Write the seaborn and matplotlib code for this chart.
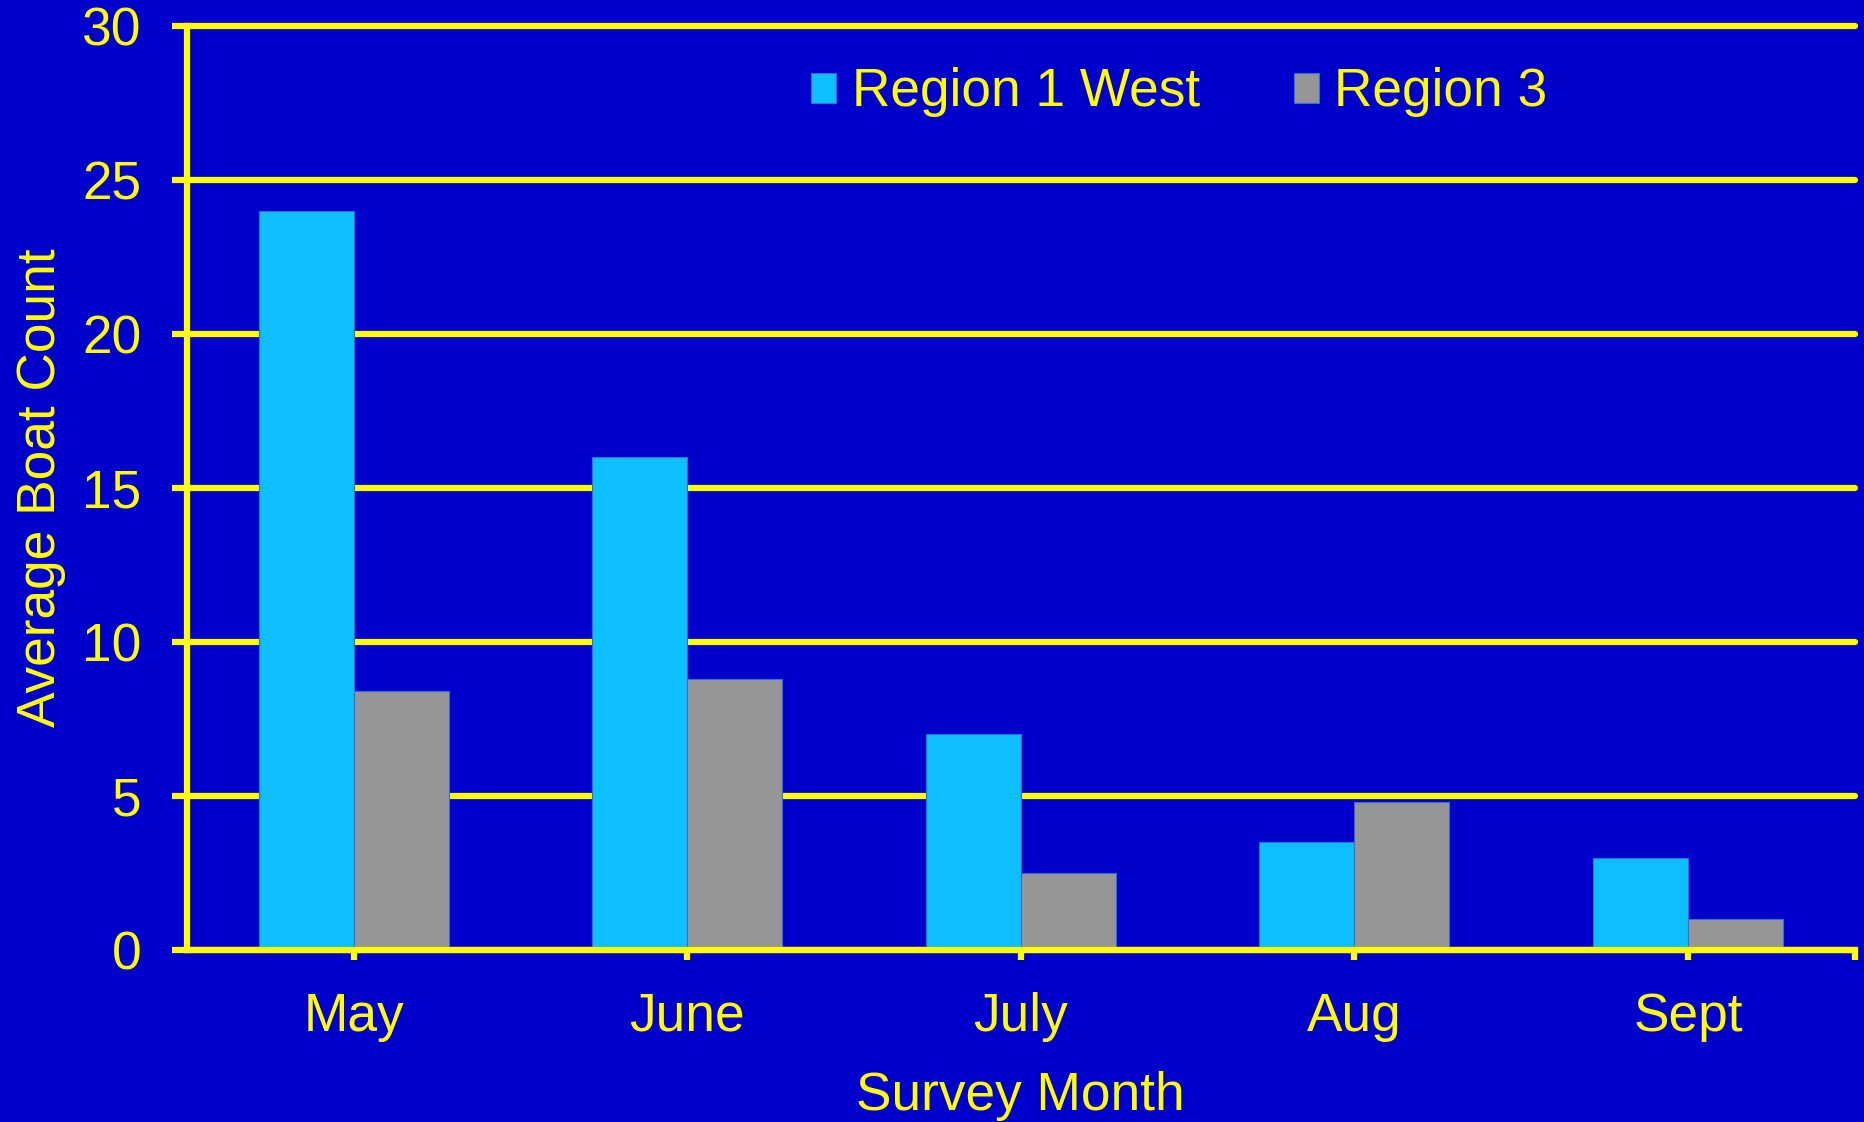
import pandas as pd
import matplotlib
matplotlib.use('Agg')
import matplotlib.pyplot as plt
import seaborn as sns

# Values
months = ['May', 'June', 'July', 'Aug', 'Sept']
region_1_west = [24.0, 16.0, 7.0, 3.5, 3.0]
region_3 = [8.4, 8.8, 2.5, 4.8, 1.0]
series_names = ['Region 1 West', 'Region 3']
y_ticks = [0, 5, 10, 15, 20, 25, 30]

bg = '#0000CC'
yellow = '#FFFF00'
colours = ['#0DBFFF', '#969696']
fs = 38.3

df = pd.DataFrame({
    'Month': months * 2,
    'Count': region_1_west + region_3,
    'Series': [series_names[0]] * len(months) + [series_names[1]] * len(months),
})

sns.set_theme(style='white')
plt.rcParams['font.family'] = ['Liberation Sans', 'DejaVu Sans']

fig = plt.figure(figsize=(18.64, 11.22), dpi=100, facecolor=bg)
ax = fig.add_axes([0.1003, 0.1533, 0.8947, 0.8235])
ax.set_facecolor(bg)

sns.barplot(data=df, x='Month', y='Count', hue='Series', order=months,
            hue_order=series_names, palette=colours, saturation=1, width=0.57,
            gap=0, edgecolor='#3070D0', linewidth=0.8, ax=ax)

ax.set_ylim(0, 30)
ax.set_xlim(-0.5, len(months) - 0.5)
ax.set_yticks(y_ticks)
ax.set_axisbelow(True)
ax.yaxis.grid(True, color=yellow, linewidth=4.5)
ax.xaxis.grid(False)
for line in ax.get_ygridlines():
    line.set_clip_on(False)

for side in ['top', 'right']:
    ax.spines[side].set_visible(False)
for side in ['left', 'bottom']:
    ax.spines[side].set_color(yellow)
    ax.spines[side].set_linewidth(4.5)
    ax.spines[side].set_zorder(3)

ax.tick_params(axis='y', colors=yellow, labelsize=fs, length=11, width=4.5,
               pad=22, left=True, direction='out')
ax.tick_params(axis='x', colors=yellow, labelsize=fs, length=7, width=4.5,
               pad=23, bottom=True, direction='out')
# extra tick at the right end of the category axis
ax.set_xticks([len(months) - 0.5], minor=True)
ax.tick_params(axis='x', which='minor', colors=yellow, length=7, width=4.5, bottom=True)

ax.set_xlabel('Survey Month', color=yellow, fontsize=fs, labelpad=21)
ax.set_ylabel('Average Boat Count', color=yellow, fontsize=fs, labelpad=11.5)

handles, labels = ax.get_legend_handles_labels()
ax.legend(handles, labels, loc='upper center', bbox_to_anchor=(0.595, 1.007), ncol=2,
          frameon=False, fontsize=fs, labelcolor=yellow, handlelength=0.47,
          handleheight=0.49, handletextpad=0.3, columnspacing=1.76)

fig.savefig('out.png', dpi=100, facecolor=bg)
